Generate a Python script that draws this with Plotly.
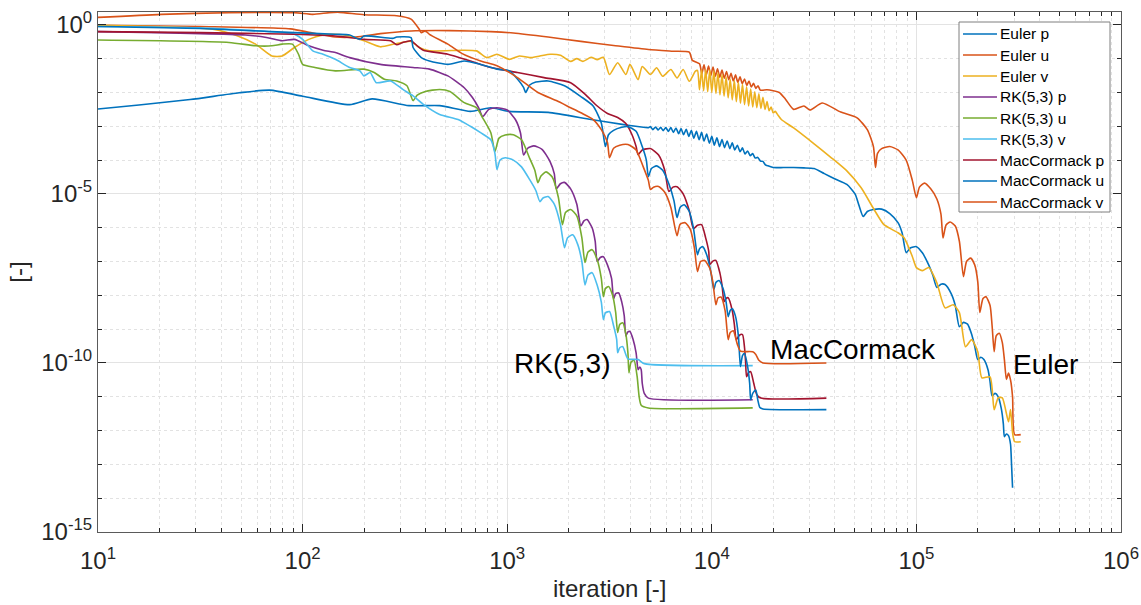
import numpy as np
import plotly.graph_objects as go

# Residual histories (log10 of iteration, log10 of residual) for the three schemes.
euler_p_lx = [1.00, 1.20, 1.45, 1.69, 1.84, 2.00, 2.23, 2.34, 2.52, 2.67, 2.82, 2.92, 3.01, 3.20, 3.41, 3.57, 3.69,
              3.700, 3.712, 3.725, 3.738, 3.750, 3.762, 3.775, 3.788, 3.800, 3.812, 3.825, 3.838, 3.850, 3.862,
              3.875, 3.888, 3.900, 3.912, 3.925, 3.938, 3.950, 3.962, 3.975, 3.988, 4.000, 4.012, 4.025, 4.038,
              4.050, 4.062, 4.075, 4.088, 4.100, 4.112, 4.125, 4.138, 4.150, 4.162, 4.175, 4.188, 4.200, 4.212,
              4.225, 4.238, 4.250, 4.262, 4.275,
              4.30, 4.35, 4.40, 4.45, 4.50, 4.55, 4.60, 4.66, 4.70, 4.72, 4.74, 4.76, 4.79, 4.83, 4.87, 4.91,
              4.93, 4.95, 4.97, 5.00, 5.03, 5.06, 5.08, 5.10, 5.12, 5.14, 5.17, 5.19, 5.21, 5.23, 5.25, 5.27,
              5.285, 5.30, 5.315, 5.33, 5.35, 5.36, 5.37, 5.385, 5.40, 5.415, 5.425, 5.43, 5.44, 5.45, 5.46,
              5.465, 5.47]
euler_p_ly = [-2.49, -2.37, -2.21, -2.01, -1.93, -2.11, -2.36, -2.19, -2.39, -2.39, -2.56, -2.45, -2.56, -2.59, -2.80, -2.95, -3.04,
              -3.01, -3.10, -3.02, -3.11, -3.03, -3.13, -3.04, -3.15, -3.04, -3.18, -3.05, -3.22, -3.07, -3.25,
              -3.09, -3.30, -3.12, -3.35, -3.15, -3.40, -3.18, -3.44, -3.23, -3.50, -3.30, -3.56, -3.34, -3.60,
              -3.39, -3.63, -3.44, -3.66, -3.49, -3.70, -3.56, -3.75, -3.64, -3.82, -3.73, -3.87, -3.81, -3.94,
              -3.92, -4.03, -4.04, -4.14, -4.17,
              -4.22, -4.22, -4.22, -4.23, -4.25, -4.40, -4.55, -4.72, -5.00, -5.35, -5.67, -5.52, -5.46, -5.45, -5.58, -5.85,
              -6.15, -6.74, -6.60, -6.56, -6.75, -7.10, -7.40, -7.77, -7.67, -7.68, -7.95, -8.30, -8.93, -8.80, -8.85, -9.15,
              -9.50, -9.90, -9.83, -9.90, -10.20, -10.55, -10.97, -10.90, -11.00, -11.35, -11.80, -12.18, -12.10, -12.15, -12.40,
              -13.00, -13.69]

euler_u_lx = [1.00, 1.50, 1.94, 2.04, 2.16, 2.26, 2.38, 2.53, 2.72, 2.92, 3.03, 3.20, 3.36, 3.52, 3.69, 3.81, 3.89, 3.905,
              3.940, 3.951, 3.962, 3.973, 3.984, 3.995, 4.006, 4.017, 4.028, 4.039, 4.050, 4.061, 4.072, 4.083,
              4.094, 4.105, 4.116, 4.127, 4.138, 4.149, 4.160, 4.171, 4.182, 4.193, 4.204, 4.215, 4.226, 4.237,
              4.27, 4.33, 4.36, 4.40, 4.45, 4.48, 4.54, 4.63, 4.71, 4.76, 4.79, 4.80, 4.81, 4.83, 4.87, 4.91,
              4.95, 4.98, 5.00, 5.015, 5.04, 5.07, 5.10, 5.12, 5.13, 5.145, 5.165, 5.19, 5.21, 5.23, 5.245, 5.265,
              5.285, 5.30, 5.31, 5.325, 5.34, 5.36, 5.37, 5.38, 5.39, 5.405, 5.42, 5.43, 5.44, 5.45, 5.46, 5.47,
              5.48, 5.51]
euler_u_ly = [-0.01, -0.05, -0.12, -0.23, -0.36, -0.36, -0.26, -0.18, -0.17, -0.20, -0.24, -0.36, -0.49, -0.61, -0.73, -0.78, -0.81, -1.05,
              -1.15, -1.45, -1.18, -1.48, -1.22, -1.50, -1.25, -1.52, -1.30, -1.55, -1.34, -1.58, -1.38, -1.62,
              -1.43, -1.66, -1.48, -1.70, -1.54, -1.74, -1.60, -1.79, -1.66, -1.84, -1.73, -1.88, -1.80, -1.93,
              -1.92, -2.00, -2.20, -2.50, -2.40, -2.52, -2.31, -2.58, -2.75, -3.10, -3.60, -4.22, -3.80, -3.66, -3.60, -3.70,
              -4.00, -4.60, -5.11, -4.80, -4.68, -4.85, -5.15, -5.60, -6.30, -5.92, -5.83, -5.95, -6.40, -7.45, -7.00, -6.90,
              -7.10, -7.60, -8.51, -8.10, -8.04, -8.30, -8.90, -9.67, -9.20, -9.12, -9.40, -9.90, -10.49, -10.30, -10.50, -11.00,
              -12.12, -12.12]

euler_v_lx = [1.00, 1.56, 1.68, 1.77, 1.85, 1.90, 1.96, 2.03, 2.10, 2.16, 2.23, 2.30, 2.38, 2.46, 2.53, 2.57, 2.62, 2.78,
              2.85, 2.90, 2.95, 3.01, 3.06, 3.11, 3.16, 3.21, 3.26, 3.31, 3.34, 3.37, 3.41, 3.44, 3.47, 3.50,
              3.54, 3.58, 3.60, 3.64, 3.66, 3.70, 3.73, 3.76, 3.80, 3.83, 3.86, 3.89, 3.92,
              3.93, 3.94, 3.95, 3.96, 3.97, 3.98, 3.99, 4.00, 4.01, 4.02, 4.03, 4.04, 4.05, 4.06, 4.07, 4.08,
              4.09, 4.10, 4.11, 4.12, 4.13, 4.14, 4.15, 4.16, 4.17, 4.18, 4.19, 4.20, 4.21, 4.22, 4.23, 4.24,
              4.25, 4.26, 4.27, 4.28, 4.29, 4.30, 4.31, 4.32,
              4.34, 4.40, 4.50, 4.58, 4.66, 4.73, 4.79, 4.84, 4.88, 4.91, 4.94, 4.98, 5.00, 5.03, 5.06, 5.10,
              5.14, 5.18, 5.21, 5.24, 5.27, 5.30, 5.32, 5.36, 5.38, 5.40, 5.42, 5.45, 5.46, 5.47, 5.48, 5.51]
euler_v_ly = [-0.01, -0.13, -0.32, -0.57, -0.92, -0.92, -0.67, -0.43, -0.30, -0.28, -0.33, -0.47, -0.65, -0.55, -0.49, -0.67, -0.77, -0.75,
              -0.77, -0.97, -0.87, -1.02, -0.92, -0.97, -0.92, -0.87, -0.90, -1.08, -1.00, -1.08, -0.96, -1.03, -0.96, -1.47,
              -1.12, -1.47, -1.17, -1.62, -1.23, -1.47, -1.27, -1.52, -1.32, -1.57, -1.32, -1.67, -1.37,
              -1.35, -1.92, -1.33, -1.95, -1.32, -1.98, -1.33, -2.00, -1.36, -2.03, -1.42, -2.07, -1.47, -2.11, -1.54, -2.16,
              -1.60, -2.22, -1.65, -2.27, -1.70, -2.32, -1.76, -2.36, -1.83, -2.40, -1.90, -2.43, -1.98, -2.45, -2.04, -2.47,
              -2.14, -2.50, -2.27, -2.54, -2.43, -2.60, -2.56, -2.64,
              -2.80, -3.05, -3.52, -3.91, -4.32, -4.82, -5.43, -5.90, -6.05, -6.15, -6.30, -6.85, -7.18, -7.27, -7.18, -7.63,
              -8.37, -8.28, -8.51, -9.52, -9.31, -9.67, -10.44, -10.41, -11.38, -11.03, -11.03, -11.74, -11.38, -12.06, -12.33, -12.33]

rk_p_lx = [1.00, 1.72, 1.83, 1.90, 1.96, 2.03, 2.10, 2.16, 2.23, 2.38, 2.54, 2.62, 2.71, 2.79, 2.83, 2.86, 2.88,
           2.91, 2.95, 3.00, 3.04, 3.065, 3.08, 3.10, 3.13, 3.17, 3.21, 3.23, 3.24, 3.26, 3.28, 3.31, 3.34,
           3.36, 3.375, 3.39, 3.415, 3.43, 3.44, 3.455, 3.47, 3.49, 3.51, 3.52, 3.53, 3.545, 3.56, 3.572,
           3.58, 3.59, 3.60, 3.615, 3.63, 3.64, 3.648, 3.655, 3.66, 3.67, 3.69, 4.20]
rk_p_ly = [-0.20, -0.30, -0.38, -0.47, -0.43, -0.62, -0.75, -0.82, -0.97, -1.17, -1.26, -1.31, -1.51, -1.86, -2.15, -2.45, -2.71,
           -2.50, -2.45, -2.52, -2.80, -3.20, -3.85, -3.65, -3.58, -3.68, -4.05, -4.40, -4.85, -4.70, -4.66, -4.85, -5.30,
           -5.95, -5.80, -5.76, -6.00, -6.40, -7.00, -6.88, -6.86, -7.10, -7.50, -8.10, -7.95, -7.93, -8.20, -8.60,
           -9.20, -9.08, -9.07, -9.30, -9.70, -10.20, -10.12, -10.20, -10.60, -10.90, -11.04, -11.09]

rk_u_lx = [1.00, 1.64, 1.77, 1.85, 1.90, 1.95, 1.98, 2.00, 2.06, 2.16, 2.30, 2.35, 2.40, 2.46, 2.51, 2.54,
           2.56, 2.60, 2.67, 2.72, 2.79, 2.85, 2.88, 2.92, 2.94, 2.96, 2.99, 3.03, 3.07, 3.11, 3.135, 3.15,
           3.165, 3.19, 3.22, 3.25, 3.27, 3.285, 3.31, 3.34, 3.365, 3.38, 3.395, 3.415, 3.44, 3.46, 3.47,
           3.48, 3.495, 3.515, 3.53, 3.54, 3.55, 3.565, 3.58, 3.59, 3.595, 3.605, 3.62, 3.635, 3.645, 3.655,
           3.69, 4.20]
rk_u_ly = [-0.45, -0.52, -0.62, -0.62, -0.57, -0.57, -0.87, -1.17, -1.26, -1.36, -1.31, -1.41, -1.61, -1.66, -1.80, -2.24,
           -2.08, -1.97, -1.91, -1.97, -2.30, -2.45, -2.75, -3.19, -3.75, -3.35, -3.26, -3.25, -3.40, -3.95, -4.30, -4.67,
           -4.47, -4.35, -4.50, -5.10, -5.91, -5.55, -5.46, -5.65, -6.30, -7.03, -6.72, -6.65, -6.95, -7.50, -8.04,
           -7.80, -7.74, -8.00, -8.50, -9.10, -8.86, -8.81, -9.15, -9.70, -10.29, -9.98, -9.92, -10.40, -11.00, -11.25,
           -11.33, -11.33]

rk_v_lx = [1.00, 1.50, 1.90, 1.96, 2.00, 2.05, 2.10, 2.16, 2.23, 2.28, 2.30, 2.33, 2.36, 2.43, 2.49, 2.54, 2.59, 2.67,
           2.76, 2.82, 2.87, 2.92, 2.94, 2.95, 2.965, 2.99, 3.03, 3.07, 3.11, 3.14, 3.16, 3.175, 3.20, 3.23,
           3.26, 3.28, 3.295, 3.32, 3.345, 3.365, 3.38, 3.395, 3.415, 3.44, 3.46, 3.47, 3.48, 3.50, 3.52,
           3.535, 3.54, 3.55, 3.565, 3.59, 3.64, 3.67, 4.20]
rk_v_ly = [-0.05, -0.09, -0.23, -0.28, -0.43, -0.77, -0.87, -1.02, -1.26, -1.36, -1.51, -1.41, -1.71, -1.66, -1.91, -2.10, -2.35, -2.65,
           -2.80, -3.00, -3.19, -3.40, -3.80, -4.28, -4.00, -3.93, -4.00, -4.20, -4.58, -4.90, -5.23, -5.12, -5.08, -5.30,
           -5.90, -6.59, -6.30, -6.21, -6.50, -7.00, -7.69, -7.40, -7.33, -7.70, -8.20, -8.72, -8.52, -8.48, -8.90,
           -9.30, -9.70, -9.55, -9.52, -9.88, -9.90, -10.02, -10.08]

mac_p_lx = [1.00, 1.50, 1.96, 2.16, 2.30, 2.43, 2.46, 2.49, 2.53, 2.56, 2.59, 2.71, 2.82, 2.92, 3.05, 3.18, 3.31,
            3.38, 3.44, 3.49, 3.54, 3.58, 3.61, 3.63, 3.64, 3.66, 3.70, 3.74, 3.77, 3.79, 3.81, 3.83, 3.86,
            3.89, 3.91, 3.93, 3.95, 3.97, 3.985, 3.99, 4.005, 4.02, 4.04, 4.05, 4.06, 4.07, 4.08, 4.10, 4.11,
            4.12, 4.135, 4.15, 4.16, 4.165, 4.17, 4.18, 4.19, 4.205, 4.22, 4.24, 4.56]
mac_p_ly = [-0.20, -0.23, -0.28, -0.33, -0.43, -0.47, -0.59, -0.52, -0.47, -0.62, -0.75, -0.87, -1.07, -1.26, -1.41, -1.56, -1.71,
            -2.05, -2.40, -2.62, -2.74, -2.92, -3.25, -3.60, -3.84, -3.70, -3.66, -3.85, -4.30, -4.93, -4.80, -4.79, -5.00,
            -5.50, -6.03, -5.93, -5.91, -6.30, -6.70, -7.09, -6.99, -6.97, -7.35, -7.70, -8.19, -8.09, -8.07, -8.45, -8.85,
            -9.31, -9.18, -9.16, -9.55, -9.95, -10.41, -10.28, -10.26, -10.60, -10.94, -11.04, -11.04]

mac_u_lx = [1.00, 1.50, 1.96, 2.16, 2.23, 2.28, 2.30, 2.44, 2.46, 2.53, 2.54, 2.58, 2.62, 2.71, 2.79, 2.87, 2.95, 3.01,
            3.05, 3.08, 3.09, 3.11, 3.14, 3.20, 3.28, 3.36, 3.42, 3.46, 3.48, 3.495, 3.52, 3.56, 3.59, 3.63,
            3.66, 3.68, 3.69, 3.705, 3.73, 3.76, 3.79, 3.815, 3.83, 3.845, 3.865, 3.89, 3.91, 3.93, 3.94, 3.955,
            3.975, 3.995, 4.01, 4.02, 4.035, 4.055, 4.07, 4.08, 4.09, 4.10, 4.115, 4.13, 4.14, 4.15, 4.16, 4.175,
            4.185, 4.19, 4.20, 4.215, 4.225, 4.235, 4.25, 4.56]
mac_u_ly = [-0.05, -0.11, -0.23, -0.28, -0.30, -0.43, -0.33, -0.40, -0.36, -0.38, -0.67, -0.97, -1.07, -1.17, -1.07, -1.17, -1.31, -1.36,
            -1.60, -1.85, -2.00, -1.78, -1.69, -1.66, -1.80, -2.12, -2.40, -2.90, -3.60, -3.25, -3.12, -3.03, -3.01, -3.15,
            -3.60, -4.00, -4.49, -4.25, -4.17, -4.30, -4.70, -5.20, -5.70, -5.40, -5.32, -5.52, -6.00, -6.80, -6.62, -6.56,
            -6.80, -7.30, -7.83, -7.62, -7.56, -7.80, -8.20, -8.63, -8.45, -8.40, -8.60, -9.20, -10.11, -9.78, -9.72, -10.10,
            -10.60, -11.09, -10.90, -10.80, -11.10, -11.32, -11.36, -11.38]

mac_v_lx = [1.00, 1.31, 1.64, 1.96, 2.05, 2.13, 2.18, 2.30, 2.46, 2.53, 2.57, 2.58, 2.60, 2.62, 2.71, 2.78, 2.87, 2.95,
            3.05, 3.15, 3.24, 3.31, 3.36, 3.42, 3.46, 3.49, 3.50, 3.52, 3.55, 3.59, 3.63, 3.665, 3.69, 3.70,
            3.715, 3.74, 3.77, 3.80, 3.83, 3.845, 3.87, 3.895, 3.915, 3.93, 3.945, 3.965, 3.99, 4.005, 4.02,
            4.03, 4.045, 4.065, 4.08, 4.09, 4.105, 4.125, 4.14, 4.20, 4.215, 4.23, 4.25, 4.56]
mac_v_ly = [0.22, 0.31, 0.36, 0.36, 0.31, 0.36, 0.37, 0.30, 0.27, 0.17, -0.13, -0.23, -0.18, -0.28, -0.57, -0.85, -1.07, -1.21,
            -1.56, -2.00, -2.24, -2.45, -2.60, -2.80, -3.10, -3.48, -3.93, -3.65, -3.56, -3.54, -3.70, -4.20, -4.60, -4.87,
            -4.80, -4.78, -4.95, -5.40, -6.24, -5.90, -5.85, -6.05, -6.60, -7.30, -7.00, -6.97, -7.20, -7.60, -8.28,
            -8.08, -8.05, -8.45, -9.31, -9.10, -9.05, -9.45, -9.65, -9.67, -9.75, -9.92, -10.00, -10.00]

series_names = ["Euler p", "Euler u", "Euler v", "RK(5,3) p", "RK(5,3) u", "RK(5,3) v",
                "MacCormack p", "MacCormack u", "MacCormack v"]
series_colors = ["#0072BD", "#D95319", "#EDB120", "#7E2F8E", "#77AC30", "#4DBEEE",
                 "#A2142F", "#0072BD", "#D95319"]
series_data = [(euler_p_lx, euler_p_ly), (euler_u_lx, euler_u_ly), (euler_v_lx, euler_v_ly),
               (rk_p_lx, rk_p_ly), (rk_u_lx, rk_u_ly), (rk_v_lx, rk_v_ly),
               (mac_p_lx, mac_p_ly), (mac_u_lx, mac_u_ly), (mac_v_lx, mac_v_ly)]

x_tick_exps = [1, 2, 3, 4, 5, 6]
x_tick_text = ["10<sup>1</sup>", "10<sup>2</sup>", "10<sup>3</sup>", "10<sup>4</sup>", "10<sup>5</sup>", "10<sup>6</sup>"]
y_tick_exps = [-15, -10, -5, 0]
y_tick_text = ["10<sup>-15</sup>", "10<sup>-10</sup>", "10<sup>-5</sup>", "10<sup>0</sup>"]

# Scheme labels placed beside the converged plateaus (log10 coordinates)
labels = [("RK(5,3)", 3.27, -10.03), ("MacCormack", 4.69, -9.59), ("Euler", 5.63, -10.06)]

TXT = "#262626"
FONT = "Liberation Sans, Arial, Helvetica, sans-serif"

# Plot-area geometry in pixels (used for the boxed legend and axis title)
W, H = 1141, 605
ML, MR, MT, MB = 98, 20, 12, 73
PW, PH = W - ML - MR, H - MT - MB


def px_to_paper(px, py):
    return (px - ML) / PW, (H - MB - py) / PH


fig = go.Figure()
for name, color, (lx, ly) in zip(series_names, series_colors, series_data):
    fig.add_trace(go.Scatter(
        x=np.power(10.0, lx), y=np.power(10.0, ly), mode="lines", name=name,
        line=dict(color=color, width=1.6, shape="spline", smoothing=0.6),
        showlegend=False))

for text, lx, ly in labels:
    fig.add_annotation(x=lx, y=ly, text=text, showarrow=False,
                       font=dict(family=FONT, size=28, color="#000000"),
                       xanchor="center", yanchor="middle")

# Boxed legend in the upper-right corner
box_l, box_r, box_t, box_b = 959, 1110, 22, 212
x0, y0 = px_to_paper(box_l, box_b)
x1, y1 = px_to_paper(box_r, box_t)
fig.add_shape(type="rect", xref="paper", yref="paper", x0=x0, y0=y0, x1=x1, y1=y1,
              fillcolor="white", line=dict(color="#7f7f7f", width=1), layer="above")
for i, (name, color) in enumerate(zip(series_names, series_colors)):
    cy = 34 + 21 * i
    lx0, ly = px_to_paper(963, cy)
    lx1, _ = px_to_paper(997, cy)
    fig.add_shape(type="line", xref="paper", yref="paper", x0=lx0, y0=ly, x1=lx1, y1=ly,
                  line=dict(color=color, width=1.6), layer="above")
    tx, _ = px_to_paper(998, cy)
    fig.add_annotation(xref="paper", yref="paper", x=tx, y=ly, text=name, showarrow=False,
                       xanchor="left", yanchor="middle",
                       font=dict(family=FONT, size=15.5, color="#000000"))

# x-axis title below the tick labels
_, title_y = px_to_paper(0, 588)
fig.add_annotation(xref="paper", yref="paper", x=0.5, y=title_y, text="iteration [-]",
                   showarrow=False, xanchor="center", yanchor="middle",
                   font=dict(family=FONT, size=24, color=TXT))

x_minor = [m * 10.0 ** k for k in range(1, 6) for m in range(2, 10)]
y_minor = [10.0 ** k for k in range(-15, 1) if k % 5 != 0]

fig.update_xaxes(
    type="log", range=[1, 6], automargin=False,
    tickvals=[10.0 ** e for e in x_tick_exps], ticktext=x_tick_text,
    ticks="inside", ticklen=8, tickwidth=1, tickcolor=TXT, ticklabelstandoff=7,
    showline=True, linecolor="#5a5a5a", linewidth=1, mirror="allticks",
    showgrid=True, gridcolor="#e3e3e3", gridwidth=1,
    minor=dict(tickvals=x_minor, ticks="inside", ticklen=4, tickcolor=TXT,
               showgrid=True, gridcolor="#e2e2e2", griddash="dot", gridwidth=1),
    tickfont=dict(family=FONT, size=24, color=TXT),
    zeroline=False,
)
fig.update_yaxes(
    type="log", range=[-15, 0.38], automargin=False,
    tickvals=[10.0 ** e for e in y_tick_exps], ticktext=y_tick_text,
    ticks="inside", ticklen=8, tickwidth=1, tickcolor=TXT,
    showline=True, linecolor="#5a5a5a", linewidth=1, mirror="allticks",
    showgrid=True, gridcolor="#e3e3e3", gridwidth=1,
    minor=dict(tickvals=y_minor, ticks="inside", ticklen=4, tickcolor=TXT,
               showgrid=True, gridcolor="#e2e2e2", griddash="dot", gridwidth=1),
    tickfont=dict(family=FONT, size=24, color=TXT),
    title=dict(text="[-]", font=dict(family=FONT, size=24, color=TXT), standoff=6),
    zeroline=False,
)

fig.update_layout(
    width=W, height=H,
    margin=dict(l=ML, r=MR, t=MT, b=MB, autoexpand=False),
    paper_bgcolor="white", plot_bgcolor="white",
    font=dict(family=FONT, color=TXT),
    showlegend=False,
)

fig.write_html("out.html")
